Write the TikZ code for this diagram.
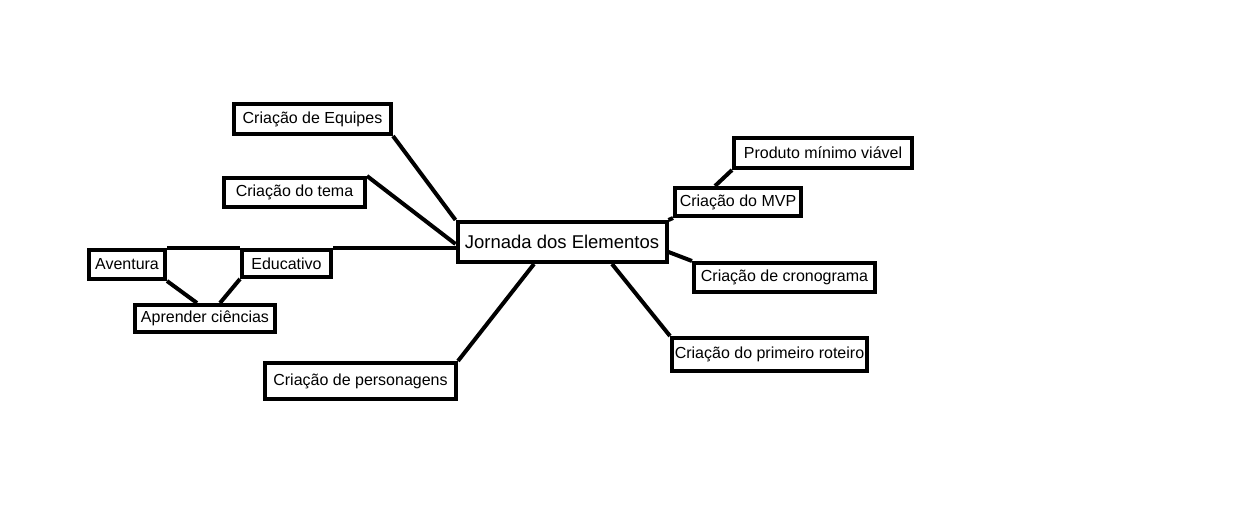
\documentclass[tikz,border=0pt]{standalone}
\usepackage{fontspec}
\setmainfont{Liberation Sans}
\usepackage{tikz}

\begin{document}
\begin{tikzpicture}[x=1pt,y=-1pt,
  caixa/.style={draw,line width=4pt,inner sep=1pt,font=\fontsize{16}{19}\selectfont},
  ligacao/.style={line width=4pt}]
\useasboundingbox (0,0) rectangle (1234,508);
% centro
\node[caixa,minimum width=209pt,minimum height=40pt,font=\fontsize{18.5}{22}\selectfont] (jornada) at (562,242) {Jornada dos Elementos};
% ramos da esquerda
\node[caixa,minimum width=157pt,minimum height=30pt] (equipes) at (312.5,119) {Criação de Equipes};
\node[caixa,minimum width=141pt,minimum height=29pt] (tema) at (294.5,192.5) {Criação do tema};
\node[caixa,minimum width=89pt,minimum height=27pt] (educativo) at (286.5,263.5) {Educativo};
\node[caixa,minimum width=76pt,minimum height=29pt] (aventura) at (127,264.5) {Aventura};
\node[caixa,minimum width=140pt,minimum height=27pt] (aprender) at (205,318.5) {Aprender ciências};
\node[caixa,minimum width=191pt,minimum height=36pt] (personagens) at (360.5,381) {Criação de personagens};
% ramos da direita
\node[caixa,minimum width=126pt,minimum height=28pt] (mvp) at (738,202) {Criação do MVP};
\node[caixa,minimum width=178pt,minimum height=30pt] (produto) at (823,153) {Produto mínimo viável};
\node[caixa,minimum width=181pt,minimum height=29pt] (cronograma) at (784.5,277.5) {Criação de cronograma};
\node[caixa,minimum width=195pt,minimum height=33pt] (roteiro) at (769.5,354.5) {Criação do primeiro roteiro};

\draw[ligacao] (equipes.south east) -- (jornada.north west);
\draw[ligacao] (tema.north east) -- ([yshift=-2pt]jornada.west);
\draw[ligacao] (aventura.north east) -- (educativo.north west);
\draw[ligacao] (educativo.north east) -- (educativo.north east -| jornada.west);
\draw[ligacao] (aventura.south east) -- ([xshift=-8pt]aprender.north);
\draw[ligacao] (educativo.south west) -- ([xshift=15pt]aprender.north);
\draw[ligacao] ([xshift=-28pt]jornada.south) -- (personagens.north east);
\draw[ligacao] ([xshift=50pt]jornada.south) -- (roteiro.north west);
\draw[ligacao] ([yshift=-10pt]jornada.east) -- (cronograma.north west);
\draw[ligacao] (jornada.north east) -- (mvp.south west);
\draw[ligacao] ([xshift=-23pt]mvp.north) -- (produto.south west);
\end{tikzpicture}
\end{document}
